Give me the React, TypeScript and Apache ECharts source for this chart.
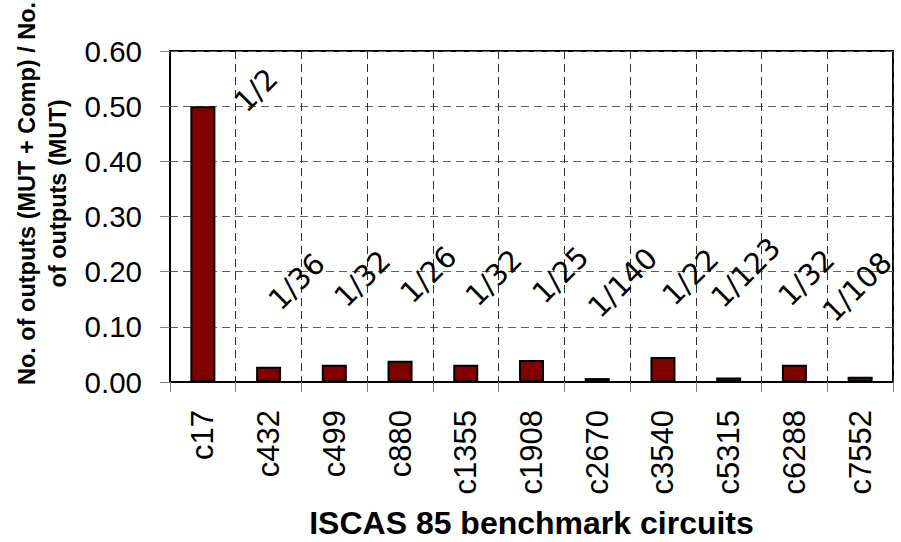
import React, { useEffect, useRef } from "react";
import * as echarts from "echarts";

const categories = ["c17", "c432", "c499", "c880", "c1355", "c1908", "c2670", "c3540", "c5315", "c6288", "c7552"];
const ratioLabels = ["1/2", "1/36", "1/32", "1/26", "1/32", "1/25", "1/140", "1/22", "1/123", "1/32", "1/108"];
const ratios = [0.5, 0.0278, 0.0313, 0.0385, 0.0313, 0.04, 0.0071, 0.0455, 0.0081, 0.0313, 0.0093];

// label anchor (px) relative to each bar's top-left corner
const labelAnchors: [number, number][] = [
  [65.5, -16], [40.5, -85], [40.5, -86], [41, -86], [40.5, -87], [41.5, -85],
  [38, -95.5], [40, -80], [29.5, -105], [24.5, -87], [9.5, -90],
];

export default function App() {
  const ref = useRef<HTMLDivElement>(null);
  useEffect(() => {
    if (!ref.current) return;
    const chart = echarts.init(ref.current, null, { renderer: "svg" });
    const arial = "'Liberation Sans', Arial, sans-serif";
    chart.setOption({
      animation: false,
      backgroundColor: "#ffffff",
      grid: {
        left: 170,
        right: 8,
        top: 51,
        bottom: 160,
        containLabel: false,
        outerBoundsMode: "none",
        show: true,
        borderColor: "#000000",
        borderWidth: 2,
        backgroundColor: "transparent",
      },
      xAxis: {
        type: "category",
        data: categories,
        name: "ISCAS 85 benchmark circuits",
        nameLocation: "middle",
        nameGap: 125,
        nameTextStyle: {
          fontFamily: arial,
          fontWeight: "bold",
          fontSize: 32,
          lineHeight: 32,
          color: "#000",
        },
        axisLine: { lineStyle: { color: "#000", width: 2 } },
        axisTick: { show: true, length: 10, lineStyle: { color: "#808080", width: 1 } },
        axisLabel: {
          rotate: 90,
          margin: 28,
          fontFamily: arial,
          fontSize: 31,
          color: "#000",
          interval: 0,
        },
        splitLine: {
          show: true,
          lineStyle: { color: "#303030", width: 1, type: [8, 5] },
        },
      },
      yAxis: {
        type: "value",
        min: 0,
        max: 0.6,
        interval: 0.1,
        name: "No. of outputs (MUT + Comp) / No.\nof outputs (MUT)",
        nameLocation: "middle",
        nameGap: 92,
        nameTextStyle: {
          fontFamily: arial,
          fontWeight: "bold",
          fontSize: 23.5,
          lineHeight: 31,
          color: "#000",
          align: "center",
          padding: [0, 0, 0, 46],
        },
        axisLine: { show: true, lineStyle: { color: "#000", width: 2 } },
        axisTick: { show: true, length: 10, lineStyle: { color: "#808080", width: 1 } },
        axisLabel: {
          margin: 28,
          fontFamily: arial,
          fontSize: 29.5,
          color: "#000",
          formatter: (v: number) => v.toFixed(2),
        },
        splitLine: {
          show: true,
          lineStyle: { color: "#606060", width: 1, type: [8, 5] },
        },
      },
      series: [
        {
          type: "bar",
          barWidth: 25,
          data: ratios.map((v, i) => ({
            value: v,
            label: { position: labelAnchors[i] },
          })),
          itemStyle: { color: "#800000", borderColor: "#000", borderWidth: 2 },
          label: {
            show: true,
            rotate: 45,
            align: "center",
            verticalAlign: "middle",
            fontFamily: "'DejaVu Sans', sans-serif",
            fontSize: 29,
            color: "#000",
            formatter: (p: any) => ratioLabels[p.dataIndex],
          },
        },
      ],
    });
    return () => chart.dispose();
  }, []);
  return (
    <div
      ref={ref}
      style={{ position: "absolute", left: 0, top: 0, width: 901, height: 542 }}
    />
  );
}
